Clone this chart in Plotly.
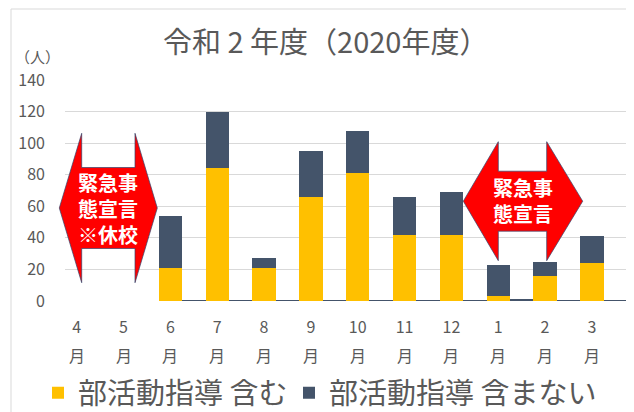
import plotly.graph_objects as go

months = ["4", "5", "6", "7", "8", "9", "10", "11", "12", "1", "2", "3"]
month_suffix = "月"
incl_club = [0, 0, 21, 84, 21, 66, 81, 42, 42, 3, 16, 24]
excl_club = [0, 0, 33, 36, 6, 29, 27, 24, 27, 20, 9, 17]
# thin spacer bars drawn right of each month's bar
gap_incl = [0, 0, 0.3, 0.3, 0.3, 0.3, 0.3, 0.3, 0.3, 0.0, 0.3, 0.3]
gap_excl = [0, 0, 0.3, 0.3, 0.3, 0.3, 0.3, 0.3, 0.3, 1.0, 0.3, 0.3]
series_names = ["部活動指導 含む", "部活動指導 含まない"]
title_text = "令和 2 年度（2020年度）"
unit_text = "（人）"
arrow1_text = "緊急事<br>態宣言<br>※休校"
arrow2_text = "緊急事<br>態宣言"

YELLOW = "#FFC000"
DARK = "#44546A"
GREY_TXT = "#595959"
FONT = "Noto Sans CJK JP"

# page has an 8px body margin; the figure is sized to fill the rest of the window
OFF = 8
W_PX, H_PX = 634 - OFF, 412 - OFF
L, R, T, B = 65 - OFF, 627 - OFF, 80 - OFF, 301 - OFF
PW, PH = R - L, B - T


def px(x):
    """reference-window pixel x -> paper x"""
    return (x - OFF - L) / PW


def py(y):
    """reference-window pixel y -> paper y"""
    return (B - (y - OFF)) / PH


xpos = list(range(len(months)))
xgap = [i + 0.5 for i in xpos]

fig = go.Figure()
fig.add_trace(go.Bar(x=xpos, y=incl_club, name=series_names[0], marker_color=YELLOW,
                     width=0.5, marker_line_width=0, legendwidth=206))
fig.add_trace(go.Bar(x=xpos, y=excl_club, name=series_names[1], marker_color=DARK,
                     width=0.5, marker_line_width=0))
fig.add_trace(go.Bar(x=xgap, y=gap_incl, marker_color="#9a8f5a", width=0.5,
                     marker_line_width=0, showlegend=False, hoverinfo="skip"))
fig.add_trace(go.Bar(x=xgap, y=gap_excl, marker_color=DARK, width=0.5,
                     marker_line_width=0, showlegend=False, hoverinfo="skip"))


def arrow_path(tipL, tipR, hxL, hxR, cy, head_half, shaft_half):
    pts = [
        (tipL, cy), (hxL, cy - head_half), (hxL, cy - shaft_half), (hxR, cy - shaft_half),
        (hxR, cy - head_half), (tipR, cy), (hxR, cy + head_half), (hxR, cy + shaft_half),
        (hxL, cy + shaft_half), (hxL, cy + head_half),
    ]
    d = "M " + " L ".join(f"{px(a):.5f},{py(b):.5f}" for a, b in pts) + " Z"
    return d


shapes = [
    dict(type="rect", xref="paper", yref="paper", x0=px(11), y0=py(440), x1=px(680), y1=py(9),
         line=dict(color="#D9D9D9", width=1), fillcolor="rgba(0,0,0,0)", layer="below"),
    dict(type="path", xref="paper", yref="paper",
         path=arrow_path(59.3, 157.3, 81.7, 135, 208, 74.7, 40.5),
         fillcolor="#FF0000", line=dict(color="rgba(50,70,110,0.7)", width=1)),
    dict(type="path", xref="paper", yref="paper",
         path=arrow_path(463.3, 582.7, 498.3, 546.7, 201.2, 59.5, 30),
         fillcolor="#FF0000", line=dict(color="rgba(50,70,110,0.7)", width=1)),
]

annotations = [
    dict(text=title_text, xref="paper", yref="paper", x=px(325), y=py(40), showarrow=False,
         font=dict(family=FONT, size=29, color=GREY_TXT), xanchor="center", yanchor="middle"),
    dict(text=unit_text, xref="paper", yref="paper", x=px(37), y=py(57), showarrow=False,
         font=dict(family=FONT, size=15, color=GREY_TXT), xanchor="center", yanchor="middle"),
    dict(text=arrow1_text, xref="paper", yref="paper", x=px(108.3), y=py(208), showarrow=False,
         font=dict(family=FONT, size=20, color="white", weight="bold"), xanchor="center",
         yanchor="middle"),
    dict(text=arrow2_text, xref="paper", yref="paper", x=px(523), y=py(200.5), showarrow=False,
         font=dict(family=FONT, size=20, color="white", weight="bold"), xanchor="center",
         yanchor="middle"),
]
for i in xpos:
    annotations.append(dict(text=month_suffix, xref="x", yref="paper", x=i, y=py(355),
                            showarrow=False, xanchor="center", yanchor="middle",
                            font=dict(family=FONT, size=16, color=GREY_TXT)))

fig.update_layout(
    width=W_PX, height=H_PX,
    margin=dict(l=L, r=W_PX - R, t=T, b=H_PX - B, autoexpand=False),
    barmode="stack", bargap=0,
    plot_bgcolor="white", paper_bgcolor="white",
    font=dict(family=FONT, color=GREY_TXT),
    shapes=shapes, annotations=annotations,
    showlegend=True,
    legend=dict(orientation="h", xref="paper", yref="paper", x=px(38),
                y=py(393), xanchor="left", yanchor="middle",
                font=dict(family=FONT, size=29, color=GREY_TXT), itemwidth=30,
                traceorder="normal", bgcolor="rgba(0,0,0,0)"),
    xaxis=dict(range=[-0.25, 11.75], tickmode="array", tickvals=xpos, ticktext=months,
               showgrid=False, zeroline=False, showline=False, ticks="",
               tickfont=dict(family=FONT, size=16, color=GREY_TXT), ticklabelstandoff=15,
               fixedrange=True),
    yaxis=dict(range=[0, 140], tickmode="linear", tick0=0, dtick=20, showgrid=True,
               gridcolor="#D9D9D9", gridwidth=1, zeroline=False, showline=False, ticks="",
               tickfont=dict(family=FONT, size=16, color=GREY_TXT), ticklabelstandoff=19,
               fixedrange=True),
)

fig.write_html("out.html")
